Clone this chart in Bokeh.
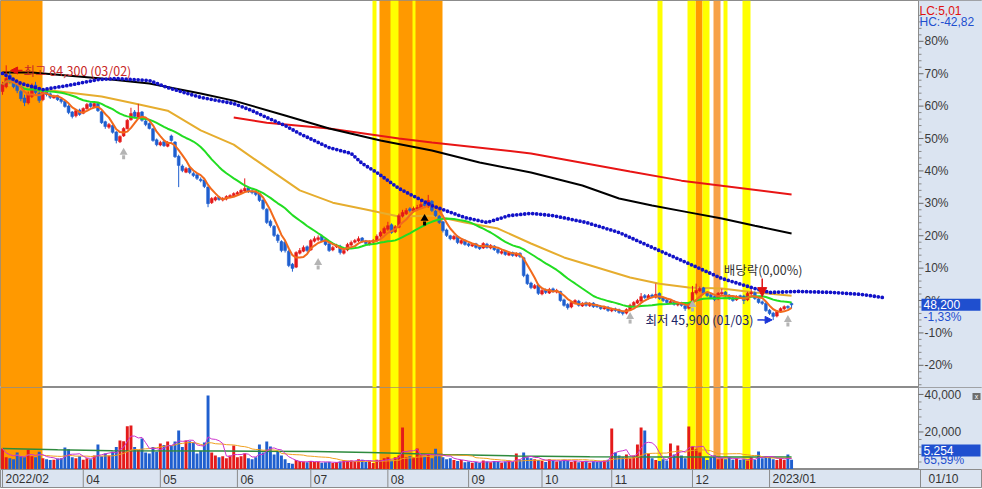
import numpy as np
import pandas as pd
from bokeh.plotting import figure
from bokeh.models import Range1d, Label, Arrow, NormalHead, ColumnDataSource
from bokeh.layouts import column
from bokeh.embed import file_html
from bokeh.resources import INLINE
from bokeh.core.properties import value

# ---------------- data (price in % vs. reference 48,850 won; volume in shares) ----------------
opens = [64.5, 66.0, 69.5, 67.5, 66.5, 64.5, 62.5, 61.0, 63.0, 66.5, 64.0, 62.0,
         64.5, 63.8, 62.5, 63.2, 62.2,
         61.5, 60.0, 58.2, 57.0, 58.8,
         57.8, 59.2, 60.8, 59.8, 60.8,
         58.3, 55.2, 53.5,
         54.0, 52.0, 49.0, 50.8, 53.0,
         55.8, 58.2, 56.6, 58.2,
         55.4, 54.6, 53.0, 49.6,
         48.0, 49.0, 47.6, 50.8,
         48.9, 44.5, 41.5, 39.6,
         40.9, 39.2, 38.8, 37.4, 37.2,
         35.0, 30.2, 31.0,
         31.9, 31.0, 31.3, 31.9, 32.3,
         32.8, 33.2, 33.8, 34.8,
         33.8, 33.5, 32.9, 31.0,
         28.2, 24.5, 22.9, 20.2, 18.2,
         18.0, 15.2, 11.2, 10.3,
         14.6, 15.2, 16.6, 15.6, 18.3,
         18.8, 19.8, 18.8, 17.5, 15.6,
         16.6, 16.8, 14.6, 15.6, 17.1,
         18.0, 18.4, 19.3, 18.4, 17.4,
         18.0, 18.4, 19.9, 20.8,
         22.0, 23.4, 21.2, 22.6, 26.0, 26.8,
         28.3, 27.6, 28.2, 28.5, 29.9, 29.0, 30.6,
         27.6, 26.0, 24.3, 21.8,
         20.0, 19.0, 19.8, 17.7, 18.6,
         17.5, 16.8, 17.5, 16.6, 16.2,
         17.4, 16.2, 16.8, 15.8, 14.6,
         15.2, 14.0, 14.8, 13.8, 14.6,
         13.2, 7.9, 5.4, 3.8, 4.8,
         2.0, 3.3, 2.3, 3.6, 2.6,
         2.8, 0.2, -1.2, -2.0, -0.9,
         -0.2, -1.7, -0.7, -1.6, -0.8,
         -1.5, -1.8, -2.6, -2.1, -3.2,
         -2.6, -2.9, -3.5, -3.9, -2.9,
         -1.6, -0.8, -0.2, 1.5, 0.7,
         1.7, 1.0, 2.2, 0.8, 0.2,
         -0.8, -0.2, -1.4, -0.7, -1.6,
         -2.4, -0.7, 2.3, 3.0, 3.9,
         2.4, 1.8, 1.2, 0.5, 2.0,
         2.6, 1.7, 0.9, 0.2, 1.5,
         1.4, 0.2, 2.0, 2.4, 0.5,
         -0.4, -0.9, -3.0, -3.9, -4.8,
         -3.2, -2.6, -1.8, -0.9]
highs = [67.5, 72.6, 70.5, 68.5, 67.0, 65.0, 63.5, 64.5, 67.0, 67.5, 64.5, 65.0,
         65.0, 64.2, 63.5, 63.5, 62.5,
         61.8, 60.5, 58.5, 59.0, 59.2,
         59.6, 61.0, 61.2, 61.2, 61.0,
         58.6, 55.5, 54.8,
         54.3, 52.3, 51.0, 53.5, 56.0,
         59.5, 58.8, 60.7, 58.5,
         55.8, 55.0, 53.3, 50.0,
         49.3, 49.3, 49.2, 51.2,
         49.2, 45.0, 42.0, 41.2,
         41.5, 39.8, 39.2, 38.0, 37.6,
         35.3, 31.9, 32.2,
         32.3, 31.9, 32.5, 32.8, 33.4,
         33.8, 34.5, 37.7, 35.2,
         34.4, 34.0, 33.2, 31.4,
         28.5, 25.0, 23.3, 20.6, 18.6,
         18.4, 15.6, 11.6, 15.2,
         16.2, 17.0, 17.0, 19.0, 19.8,
         20.1, 20.3, 19.1, 17.9, 16.9,
         17.5, 17.2, 15.9, 17.8, 18.5,
         19.0, 19.8, 19.6, 18.7, 18.5,
         19.0, 20.4, 21.5, 22.8,
         24.3, 23.8, 23.3, 26.8, 28.0, 28.5,
         28.8, 29.0, 29.5, 31.0, 30.4, 32.6, 31.0,
         28.0, 26.4, 24.6, 22.2,
         20.3, 20.3, 20.1, 19.0, 18.9,
         17.9, 17.7, 17.8, 17.0, 18.0,
         17.8, 17.4, 17.1, 16.1, 15.6,
         15.5, 15.2, 15.1, 14.9, 14.9,
         13.5, 8.3, 5.8, 5.1, 5.2,
         3.6, 3.7, 3.9, 4.0, 3.6,
         3.0, 0.6, -0.8, -0.2, 0.4,
         0.2, -0.5, -0.3, -0.5, -0.5,
         -1.1, -1.4, -1.8, -1.7, -2.4,
         -2.2, -2.5, -3.1, -2.4, -1.0,
         -0.2, 0.5, 2.3, 2.0, 2.0,
         2.1, 5.2, 2.5, 1.2, 0.6,
         0.2, 0.1, -0.4, -0.4, -1.2,
         -0.5, 4.5, 5.2, 4.3, 4.2,
         2.8, 2.3, 1.5, 2.6, 3.6,
         2.9, 2.0, 1.2, 1.6, 1.8,
         1.8, 2.7, 3.5, 2.8, 0.9,
         0.0, -0.5, -2.6, -3.5, -3.0,
         -2.1, -1.5, -1.5, -0.6]
lows = [63.5, 65.5, 67.0, 65.5, 64.0, 61.5, 60.0, 60.5, 62.5, 63.5, 61.0, 61.5,
        63.0, 62.2, 62.3, 61.6, 60.8,
        59.5, 57.5, 56.2, 56.5, 57.0,
        57.5, 58.9, 59.5, 59.5, 58.2,
        54.5, 53.0, 53.0,
        51.5, 48.5, 48.6, 50.5, 52.8,
        55.5, 56.3, 56.3, 55.2,
        53.8, 52.8, 49.0, 47.6,
        47.6, 47.4, 47.3, 49.0,
        44.0, 35.0, 39.6, 39.3,
        39.0, 38.1, 37.2, 36.5, 34.7,
        28.8, 29.8, 30.6,
        30.8, 30.6, 30.9, 31.6, 32.0,
        32.4, 32.9, 33.5, 33.2,
        32.8, 32.2, 30.4, 27.9,
        23.6, 22.5, 19.6, 17.8, 14.9,
        14.8, 10.3, 8.9, 10.0,
        14.2, 14.9, 15.0, 15.3, 17.9,
        18.3, 18.0, 16.9, 15.0, 15.2,
        16.2, 14.2, 14.2, 15.2, 16.8,
        17.6, 18.0, 17.8, 17.2, 17.0,
        17.6, 18.0, 19.5, 20.5,
        21.5, 20.6, 20.8, 22.3, 25.6, 26.4,
        27.2, 27.2, 27.8, 28.2, 28.8, 28.6, 27.3,
        25.8, 23.6, 21.0, 19.6,
        18.6, 18.6, 17.4, 17.3, 16.9,
        16.5, 16.5, 16.0, 15.6, 15.9,
        16.0, 15.8, 15.3, 14.3, 14.2,
        13.8, 13.7, 13.5, 13.4, 13.1,
        7.2, 4.8, 3.5, 3.5, 1.7,
        1.6, 2.0, 2.0, 2.4, 2.2,
        -0.4, -1.9, -2.8, -2.4, -1.2,
        -1.9, -2.0, -1.9, -2.0, -2.3,
        -2.3, -2.9, -2.8, -3.5, -3.6,
        -3.5, -4.1, -4.6, -4.3, -3.2,
        -1.9, -1.1, -0.5, 0.5, 0.3,
        0.7, 0.6, 0.2, -0.5, -1.0,
        -1.1, -1.6, -1.8, -1.9, -3.2,
        -2.8, -1.0, 1.8, 2.6, 1.8,
        1.1, 0.4, -0.2, 0.1, 1.6,
        1.1, 0.2, -0.4, -0.1, 0.5,
        -1.1, -0.2, 1.6, 0.2, -1.0,
        -1.4, -3.5, -4.5, -6.04, -5.2,
        -3.6, -3.0, -2.6, -2.4]
closes = [66.7, 68.5, 67.9, 66.0, 64.8, 62.3, 61.1, 63.6, 66.0, 64.2, 61.7, 64.2,
          63.6, 62.7, 63.0, 62.0, 61.4,
          59.9, 58.0, 56.8, 58.6, 57.4,
          59.3, 60.5, 59.9, 60.8, 58.6,
          54.9, 53.7, 54.3,
          51.9, 49.4, 50.6, 53.1, 55.6,
          57.7, 56.8, 58.0, 55.6,
          54.3, 53.1, 49.4, 48.1,
          48.8, 47.8, 48.8, 49.4,
          44.4, 41.7, 40.1, 40.7,
          39.5, 38.6, 37.7, 37.0, 35.2,
          29.9, 31.5, 31.8,
          31.2, 31.5, 32.1, 32.4, 33.0,
          33.3, 34.0, 34.6, 33.6,
          33.3, 32.7, 30.9, 28.4,
          24.1, 23.1, 20.1, 18.5, 15.4,
          15.4, 10.8, 9.9, 14.8,
          15.4, 16.4, 15.4, 18.5, 19.1,
          19.4, 18.5, 17.3, 15.4, 16.4,
          17.0, 14.8, 15.4, 17.3, 17.9,
          18.5, 19.1, 18.2, 17.6, 17.9,
          18.5, 19.8, 21.0, 22.2,
          23.1, 21.0, 22.8, 26.2, 27.2, 27.8,
          27.8, 28.4, 28.7, 29.6, 29.3, 30.9, 27.8,
          26.2, 24.1, 21.6, 20.1,
          19.1, 19.8, 17.9, 18.5, 17.3,
          17.0, 17.3, 16.4, 16.0, 17.6,
          16.4, 17.0, 15.7, 14.8, 15.1,
          14.2, 14.8, 13.9, 14.5, 13.6,
          7.7, 5.2, 4.0, 4.6, 2.2,
          3.1, 2.5, 3.4, 2.8, 3.1,
          0.0, -1.5, -2.2, -0.6, 0.0,
          -1.5, -0.9, -1.5, -0.9, -1.9,
          -1.9, -2.5, -2.2, -3.1, -2.8,
          -3.1, -3.7, -4.0, -2.8, -1.5,
          -0.6, 0.0, 1.2, 0.9, 1.5,
          1.2, 1.9, 0.6, 0.0, -0.6,
          -0.3, -1.2, -0.9, -1.5, -2.5,
          -0.9, 2.5, 3.1, 3.7, 2.2,
          1.5, 0.9, 0.3, 2.2, 2.5,
          1.5, 0.6, 0.0, 1.2, 0.9,
          0.0, 2.2, 2.5, 0.6, -0.6,
          -0.9, -3.1, -4.0, -4.9, -3.4,
          -2.5, -1.9, -2.2, -1.33]
volumes = [11200, 6500, 6000, 5500, 9000, 7000, 6500, 10500, 7000, 6500, 9500, 6000,
           5500, 5000, 5200, 5800, 6000,
           11700, 10800, 6500, 6000, 7000,
           5200, 6000, 5500, 7500, 13300,
           7000, 8500, 7500,
           9500, 12000, 15500, 15000, 23000,
           23500, 12000, 10500, 16500,
           9000, 8500, 12000, 9500,
           13900, 13000, 14900, 12500,
           14900, 20800, 12000, 15500,
           15000, 14500, 8500, 10000, 14400,
           39400, 9000, 7500,
           6500, 7000, 6000, 7500, 12800,
           6500, 7000, 8500, 6000,
           5500, 6500, 13300, 9000,
           14900, 12300, 8000, 9500, 7500,
           5500, 3500, 3000, 5000,
           4500, 4200, 3800, 4500, 4000,
           4300, 3600, 3900, 4100, 3500,
           3800, 4200, 5000, 4600, 4800,
           4200, 5500, 5200, 4000, 4800,
           3500, 5200, 5000, 6000,
           6500, 4800, 6500, 7500, 22400, 6500,
           7000, 6500, 11200, 7500, 6800, 8000, 6000,
           11000, 7000, 6500, 5500,
           6000, 5000, 4500, 5000, 3800,
           4200, 3600, 4000, 3500, 4800,
           4200, 3800, 4500, 4000, 3600,
           4200, 4800, 4000, 8500, 5000,
           9000, 6500, 6000, 5500, 5000,
           4500, 4000, 5500, 4800, 4200,
           4500, 5200, 4800, 4000, 4500,
           3800, 4200, 4600, 3600, 4400,
           4000, 4300, 4800, 5200, 21800,
           9000, 7500, 6500, 8000, 6000,
           7500, 13300, 22400, 20800, 8500,
           6000, 5000, 4500, 5500, 4800,
           13900, 8000, 12800, 7500, 6000,
           22900, 12300, 11000, 9000, 6500,
           5000, 6500, 7500, 5500, 6000,
           5500, 6500, 5200, 6000, 5000,
           5500, 4800, 6500, 5000, 9600,
           6000, 7000, 6500, 5500, 5000,
           6000, 5000, 8000, 5254]

# longer moving averages (bar index, value)
ma60_idx = [0, 11, 27, 36, 45, 54, 63, 72, 81, 90, 99, 108, 117, 126, 135, 144, 153, 162, 171, 179, 187, 196, 205, 215]
ma60_val = [66.7, 65.1, 63.0, 60.8, 58.6, 52.5, 48.1, 41.0, 34.0, 30.2, 28.1, 25.9, 26.2, 24.1, 22.2, 17.6, 13.3, 10.2, 7.1, 5.2, 4.0, 3.7, 2.5, 1.5]
ma120_idx = [0, 8, 27, 40, 54, 63, 77, 89, 103, 117, 130, 144, 158, 168, 177, 187, 196, 205, 215]
ma120_val = [70.4, 70.4, 68.5, 67.0, 63.9, 61.7, 57.1, 53.1, 49.4, 46.3, 42.6, 39.5, 35.5, 31.5, 29.3, 27.2, 25.3, 23.1, 20.7]
ma240_idx = [63, 72, 89, 108, 117, 144, 171, 185, 215]
ma240_val = [56.5, 54.9, 53.1, 50.0, 48.8, 45.4, 39.8, 37.0, 32.7]
span_idx = [0, 5, 11, 18, 26, 31, 40, 45, 54, 63, 68, 72, 77, 81, 86, 89, 95, 98, 102, 108,
            117, 126, 132, 138, 144, 150, 159, 168, 177, 187, 196, 205, 209, 217, 226, 234, 240]
span_val = [70.1, 67.0, 65.1, 66.4, 68.2, 68.5, 67.9, 65.7, 62.7, 60.8, 58.6, 56.5, 54.0, 51.5, 48.8, 47.2, 45.4, 42.3, 39.5, 34.6,
            29.3, 25.6, 24.1, 26.2, 26.9, 26.2, 24.1, 21.0, 16.4, 11.4, 6.8, 3.7, 2.5, 2.8, 2.5, 1.9, 0.9]
vlong_idx = [0, 15, 30, 60, 85, 100, 120, 140, 160, 180, 200, 215]
vlong_val = [11200, 10500, 10000, 9800, 9600, 9000, 8000, 7200, 6800, 6600, 6600, 6700]

# highlight bands (bar units)
orange_x0 = [-0.55, 102.7, 188.8]
orange_x1 = [10.9, 119.9, 190.7]
lorange_x0 = [193.7]
lorange_x1 = [195.6]
yellow_x0 = [100.8, 105.7, 111.7, 178.5, 186.6, 190.7, 196.5, 201.6]
yellow_x1 = [101.9, 107.9, 112.5, 179.8, 188.8, 192.6, 197.5, 203.8]

# signal arrows
sig_idx = [33, 86, 171, 188, 214]
sig_val = [44.8, 10.8, -5.9, -2.2, -6.8]
buy_idx = [115]
buy_val = [24.4]
div_idx = 207

month_idx = [0, 22, 43, 64, 84, 105, 127, 147, 166, 188, 209]
month_lbl = ["2022/02", "04", "05", "06", "07", "08", "09", "10", "11", "12", "2023/01"]
price_ticks = [-20, -10, 0, 10, 20, 30, 40, 50, 60, 70, 80]
price_minor = [t for t in range(-26, 92, 2) if t % 10 != 0]
vol_ticks = [20000, 40000]
vol_minor = [4000, 8000, 12000, 16000, 24000, 28000, 32000, 36000]

# ---------------- styling ----------------
RED = "#e41a1a"
BLUE = "#1f5fcf"
BADGE = "#1f4fcf"
AXBG = "#dbe4f1"
GRAYLINE = "#8c8c8c"
KFONT = "Noto Sans CJK KR"
NFONT = "Liberation Sans"

W = 982
PH, VH, DH = 387, 82, 19
PXB = 3.67                      # pixels per bar
X0 = -0.55
X1 = X0 + 918 / PXB             # right edge of chart area / price-scale line
XE = X0 + W / PXB
def px(d):
    return d / PXB

n = min(len(opens), len(highs), len(lows), len(closes), len(volumes))
idx = np.arange(n)
o = np.array(opens[:n]); c = np.array(closes[:n])
h = np.maximum(np.array(highs[:n]), np.maximum(o, c))
l = np.minimum(np.array(lows[:n]), np.minimum(o, c))
v = np.array(volumes[:n])
col = np.where(c >= o, RED, BLUE)
src = ColumnDataSource(dict(i=idx, o=o, c=c, h=h, l=l, v=v, col=col,
                            top=np.maximum(o, c), bot=np.minimum(o, c)))
ma5 = pd.Series(c).rolling(5, min_periods=1).mean().values
ma20 = pd.Series(c).rolling(20, min_periods=1).mean().values
vma5 = pd.Series(v).rolling(5, min_periods=1).mean().values
vma20 = pd.Series(v).rolling(20, min_periods=1).mean().values


def panel(height, yr, bands=True):
    f = figure(width=W, height=height, x_range=Range1d(X0, XE), y_range=yr,
               output_backend="svg", toolbar_location=None,
               x_axis_location=None, y_axis_location=None, min_border=0,
               background_fill_color="white", border_fill_color="white",
               outline_line_color=GRAYLINE)
    f.grid.visible = False
    f.vstrip(x0=[X1], x1=[XE], fill_color=AXBG, line_width=0)
    if bands:
        f.vstrip(x0=orange_x0, x1=orange_x1, fill_color="#ff9900", line_width=0)
        f.vstrip(x0=lorange_x0, x1=lorange_x1, fill_color="#f7a248", line_width=0)
        f.vstrip(x0=yellow_x0, x1=yellow_x1, fill_color="#ffff00", line_width=0)
    return f


def scale(f, ticks, minor, labels):
    f.vspan(x=[X1], line_color=GRAYLINE, line_width=1)
    f.segment(x0=[X1] * len(minor), y0=minor, x1=[X1 + px(3)] * len(minor), y1=minor,
              line_color="#8a8a8a", line_width=1)
    f.segment(x0=[X1] * len(ticks), y0=ticks, x1=[X1 + px(5)] * len(ticks), y1=ticks,
              line_color="#6a6a6a", line_width=1)
    f.text(x=[X1 + px(6)] * len(ticks), y=ticks, text=labels, text_baseline="middle",
           text_align="left", text_font=value(NFONT), text_font_size="12px", text_color="#3a3a3a")


def badge(f, yv, txt, sub, sub_y):
    f.rect(x=[X1 + px(32.5)], y=[yv], width=59, height=12, width_units="screen",
           height_units="screen", fill_color=BADGE, line_width=0)
    f.text(x=[X1 + px(5)], y=[yv], text=[txt], text_baseline="middle", text_align="left",
           text_font=value(NFONT), text_font_size="12px", text_color="white")
    f.text(x=[X1 + px(5)], y=[sub_y], text=[sub], text_baseline="middle", text_align="left",
           text_font=value(NFONT), text_font_size="12px", text_color=BADGE)


# ---------------- price panel ----------------
p = panel(PH, Range1d(-26.85, 92.6))
p.line(ma240_idx, ma240_val, line_color="#e81515", line_width=2)
p.line(ma120_idx, ma120_val, line_color="#000000", line_width=2)
p.line(ma60_idx, ma60_val, line_color="#e6ad2e", line_width=2)

p.segment(x0="i", y0="l", x1="i", y1="h", line_color="col", line_width=1, source=src)
p.vbar(x="i", width=0.78, top="top", bottom="bot", fill_color="col", line_color="col",
       line_width=0.5, source=src)

p.line(idx, ma20, line_color="#22dd22", line_width=2)
p.line(idx, ma5, line_color="#f26a1c", line_width=2)
p.line(span_idx, span_val, line_color="#1212c8", line_width=3.8, line_dash="0 4", line_cap="round")

sy = np.array(sig_val)
p.scatter(sig_idx, sy + 0.9, marker="triangle", size=8, fill_color="#b4b4b4", line_width=0)
p.rect(sig_idx, sy - 0.6, width=3, height=4, width_units="screen", height_units="screen",
       fill_color="#b4b4b4", line_width=0)
by = np.array(buy_val)
p.scatter(buy_idx, by + 0.9, marker="triangle", size=8, fill_color="#000000", line_width=0)
p.rect(buy_idx, by - 0.6, width=3, height=4, width_units="screen", height_units="screen",
       fill_color="#000000", line_width=0)

scale(p, price_ticks, price_minor, [f"{t}%" for t in price_ticks])
p.text(x=[X1 + px(1)], y=[89.5], text=["LC:5,01"], text_baseline="middle", text_align="left",
       text_font=value(NFONT), text_font_size="12px", text_color="#e01010")
p.text(x=[X1 + px(1)], y=[86.1], text=["HC:-42,82"], text_baseline="middle", text_align="left",
       text_font=value(NFONT), text_font_size="12px", text_color=BADGE)
badge(p, float(c[-1]), "48,200", "-1,33%", float(c[-1]) - 3.8)

hi_i = int(np.argmax(h)); hi_v = float(h[hi_i])
lo_i = int(np.argmin(l)); lo_v = float(l[lo_i])
p.add_layout(Arrow(end=NormalHead(size=7, fill_color="#e01010", line_color="#e01010"),
                   x_start=hi_i + 4.45, y_start=hi_v - 1.6, x_end=hi_i + 1.2, y_end=hi_v - 1.6,
                   line_color="#e01010", line_width=1.5))
p.add_layout(Label(x=hi_i + 4.7, y=hi_v - 1.6, text="최고 84,300 (03/02)", text_baseline="middle",
                   text_align="left", text_font=KFONT, text_font_size="12.5px", text_color="#c82828"))
p.add_layout(Arrow(end=NormalHead(size=7, fill_color="#1a34d8", line_color="#1a34d8"),
                   x_start=lo_i - 4.3, y_start=lo_v + 0.05, x_end=lo_i - 0.3, y_end=lo_v + 0.05,
                   line_color="#1a34d8", line_width=1.5))
p.add_layout(Label(x=lo_i - 5.4, y=lo_v + 0.05, text="최저 45,900 (01/03)", text_baseline="middle",
                   text_align="right", text_font=KFONT, text_font_size="12.5px", text_color="#1c2566"))
p.add_layout(Arrow(end=NormalHead(size=9, fill_color="#e01010", line_color="#e01010"),
                   x_start=div_idx, y_start=6.8, x_end=div_idx, y_end=1.2,
                   line_color="#e01010", line_width=1.5))
p.add_layout(Label(x=div_idx - 10.5, y=9.6, text="배당락(0,00%)", text_baseline="middle",
                   text_align="left", text_font=KFONT, text_font_size="12.5px", text_color="#333333"))

# ---------------- volume panel ----------------
pv = panel(VH, Range1d(0, 43700))
pv.vbar(x="i", width=0.8, top="v", bottom=0, fill_color="col", line_width=0, source=src)
pv.line(vlong_idx, vlong_val, line_color="#2e8b3e", line_width=1.5)
pv.line(idx, vma20, line_color="#f0a020", line_width=1)
pv.line(idx, vma5, line_color="#cc33cc", line_width=1)
scale(pv, vol_ticks, vol_minor, [f"{t:,}" for t in vol_ticks])
badge(pv, 10100, "5,254", "65,59%", 4800)
pv.rect(x=[X1 + px(58)], y=[38900], width=8, height=7, width_units="screen",
        height_units="screen", fill_color="#6d6d6d", line_width=0)
pv.text(x=[X1 + px(58)], y=[38900], text=["x"], text_baseline="middle", text_align="center",
        text_font=value(NFONT), text_font_size="7px", text_color="white")

# ---------------- date strip ----------------
pdt = figure(width=W, height=DH, x_range=Range1d(X0, XE), y_range=Range1d(0, 1),
             output_backend="svg", toolbar_location=None, x_axis_location=None, y_axis_location=None,
             min_border=0, background_fill_color=AXBG, border_fill_color=AXBG,
             outline_line_color=GRAYLINE)
pdt.grid.visible = False
pdt.segment(x0=month_idx, y0=[0] * len(month_idx), x1=month_idx, y1=[1] * len(month_idx),
            line_color="#8a8a8a", line_width=1)
pdt.text(x=[m + px(3) for m in month_idx], y=[0.5] * len(month_idx), text=month_lbl,
         text_baseline="middle", text_align="left", text_font=value(NFONT),
         text_font_size="12px", text_color="#333333")
pdt.vspan(x=[X1 + px(2)], line_color="#8a8a8a", line_width=1)
pdt.text(x=[X1 + px(10)], y=[0.5], text=["01/10"], text_baseline="middle", text_align="left",
         text_font=value(NFONT), text_font_size="12px", text_color="#333333")

layout = column(p, pv, pdt, spacing=0)
open("out.html", "w").write(file_html(layout, INLINE))
